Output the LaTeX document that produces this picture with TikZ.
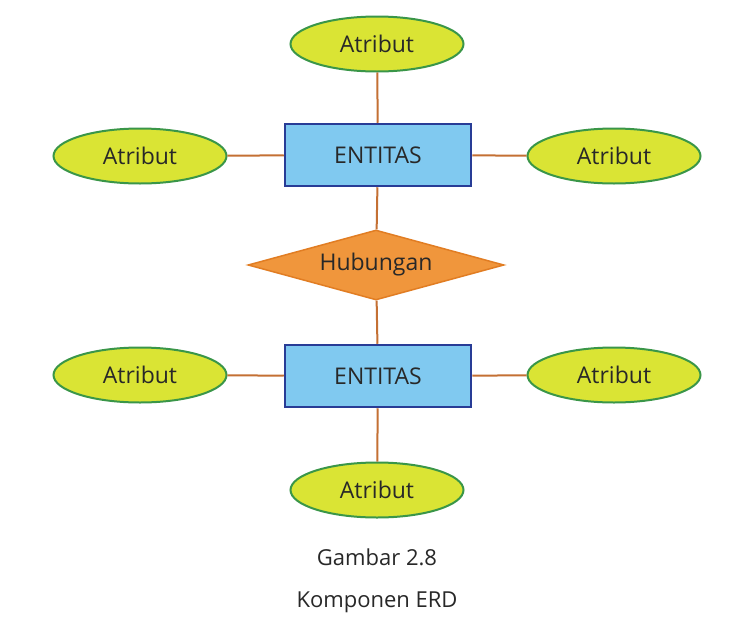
\documentclass[tikz,border=0pt]{standalone}
\usepackage{fontspec}
\setmainfont{Open Sans}
\usetikzlibrary{shapes.geometric}
\definecolor{attrfill}{RGB}{218,228,52}
\definecolor{attrdraw}{RGB}{58,150,72}
\definecolor{entfill}{RGB}{128,201,240}
\definecolor{entdraw}{RGB}{40,60,150}
\definecolor{relfill}{RGB}{240,150,60}
\definecolor{reldraw}{RGB}{225,125,35}
\definecolor{linkc}{RGB}{196,112,52}
\definecolor{txt}{RGB}{40,40,40}
\begin{document}
\begin{tikzpicture}[x=1pt,y=-1pt,
  attr/.style={ellipse, draw=attrdraw, fill=attrfill, line width=2pt, minimum width=173pt, minimum height=55pt, inner sep=0pt, text=txt, font=\fontsize{23}{26}\selectfont},
  ent/.style={rectangle, draw=entdraw, fill=entfill, line width=2.5pt, minimum width=186pt, minimum height=62pt, inner sep=0pt, text=txt, font=\fontsize{23}{26}\selectfont},
  rel/.style={diamond, draw=reldraw, fill=relfill, line width=1.5pt, minimum width=256pt, minimum height=70pt, aspect=3.6, inner sep=0pt, text=txt, font=\fontsize{23}{26}\selectfont},
  link/.style={draw=linkc, line width=2pt},
  captext/.style={text=txt, font=\fontsize{22}{26}\selectfont}]
\useasboundingbox (0,0) rectangle (745,635);
\fill[white] (0,0) rectangle (745,635);
\node[ent] (e1) at (378,155) {ENTITAS};
\node[ent] (e2) at (378,376) {ENTITAS};
\node[rel] (r) at (376,265) {Hubungan};
\node[attr] (a1) at (377,44) {Atribut};
\node[attr] (a2) at (140,156) {Atribut};
\node[attr] (a3) at (614,156) {Atribut};
\node[attr] (a4) at (140,375) {Atribut};
\node[attr] (a5) at (614,375) {Atribut};
\node[attr] (a6) at (377,490) {Atribut};
\draw[link] (a1) -- (e1);
\draw[link] (a2) -- (e1);
\draw[link] (a3) -- (e1);
\draw[link] (e1) -- (r);
\draw[link] (r) -- (e2);
\draw[link] (a4) -- (e2);
\draw[link] (a5) -- (e2);
\draw[link] (e2) -- (a6);
\node[captext] (c1) at (377,557) {Gambar 2.8};
\node[captext] (c2) at (377,602) {Komponen ERD};
\end{tikzpicture}
\end{document}
